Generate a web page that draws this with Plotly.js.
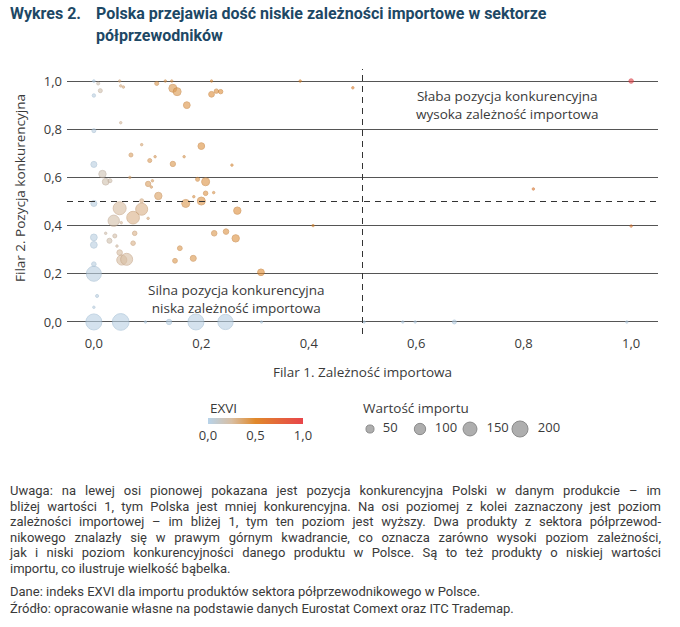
<!DOCTYPE html>
<html lang="pl">
<head>
<meta charset="utf-8">
<script src="https://cdn.plot.ly/plotly-3.0.1.min.js"></script>
<style>
  body { margin: 0; width: 680px; height: 627px; background: #fff; position: relative; overflow: hidden; }
  .title { position: absolute; top: 3px; left: 10px; width: 660px; font-family: Roboto, sans-serif; font-weight: bold;
           font-size: 16px; line-height: 22px; color: #1d4865; }
  .title .num { position: absolute; left: 0; top: 0; white-space: nowrap; }
  .title .txt { position: absolute; left: 86px; top: 0; white-space: nowrap; }
  #chart { position: absolute; top: 55px; left: 0; width: 680px; height: 400px; }
  .note { position: absolute; top: 483px; left: 10px; width: 651px; font-family: Roboto, sans-serif;
          font-size: 13px; line-height: 15.6px; color: #3a3a3a; }
  .note .j { text-align: justify; text-align-last: justify; }
  .note .src { margin-top: 7px; }
</style>
</head>
<body>
<div class="title">
  <span class="num">Wykres 2.</span>
  <span class="txt">Polska przejawia dość niskie zależności importowe w sektorze<br>półprzewodników</span>
</div>
<div id="chart"></div>
<div class="note">
  <div class="j">Uwaga: na lewej osi pionowej pokazana jest pozycja konkurencyjna Polski w danym produkcie – im</div>
  <div class="j">bliżej wartości 1, tym Polska jest mniej konkurencyjna. Na osi poziomej z kolei zaznaczony jest poziom</div>
  <div class="j">zależności importowej – im bliżej 1, tym ten poziom jest wyższy. Dwa produkty z sektora półprzewod-</div>
  <div class="j">nikowego znalazły się w prawym górnym kwadrancie, co oznacza zarówno wysoki poziom zależności,</div>
  <div class="j">jak i niski poziom konkurencyjności danego produktu w Polsce. Są to też produkty o niskiej wartości</div>
  <div>importu, co ilustruje wielkość bąbelka.</div>
  <div class="src">Dane: indeks EXVI dla importu produktów sektora półprzewodnikowego w Polsce.</div>
  <div style="margin-top:2px">Źródło: opracowanie własne na podstawie danych Eurostat Comext oraz ITC Trademap.</div>
</div>
<script>
// Filar 1 – zależność importowa (oś X)
const importDependence = [
  0.000, 0.008, 0.012, 0.000, 0.048, 0.050, 0.055, 0.117, 0.133, 0.145,
  0.147, 0.155, 0.173, 0.219, 0.219, 0.228, 0.236, 0.384, 0.482, 1.000,
  0.050, 0.000, 0.089, 0.200, 0.069, 0.104, 0.114, 0.147, 0.168, 0.257,
  0.000, 0.016, 0.022, 0.030, 0.067, 0.101, 0.109, 0.107, 0.120, 0.193,
  0.208, 0.208, 0.223, 0.186, 0.200, 0.171, 0.267, 0.000, 0.048, 0.089,
  0.089, 0.073, 0.037, 0.051, 0.101, 0.076, 0.224, 0.246, 0.264, 0.000,
  0.000, 0.022, 0.039, 0.029, 0.043, 0.048, 0.052, 0.061, 0.073, 0.000,
  0.000, 0.006, 0.000, 0.160, 0.151, 0.185, 0.311, 0.408, 0.818, 1.000,
  0.000, 0.050, 0.096, 0.140, 0.190, 0.245, 0.312, 0.503, 0.575, 0.598,
  0.671, 0.992
];
// Filar 2 – pozycja konkurencyjna (oś Y)
const competitivePosition = [
  1.000, 0.990, 0.960, 0.940, 1.000, 0.980, 0.975, 0.990, 1.000, 1.000,
  0.970, 0.956, 0.900, 1.000, 0.945, 0.958, 0.956, 1.000, 0.972, 1.000,
  0.827, 0.794, 0.736, 0.730, 0.693, 0.670, 0.686, 0.656, 0.686, 0.651,
  0.654, 0.614, 0.582, 0.586, 0.600, 0.573, 0.586, 0.560, 0.523, 0.592,
  0.582, 0.534, 0.537, 0.520, 0.502, 0.492, 0.462, 0.492, 0.472, 0.468,
  0.503, 0.433, 0.420, 0.412, 0.430, 0.368, 0.368, 0.375, 0.347, 0.351,
  0.320, 0.368, 0.357, 0.337, 0.315, 0.288, 0.257, 0.260, 0.327, 0.240,
  0.200, 0.108, 0.061, 0.306, 0.254, 0.264, 0.206, 0.400, 0.552, 0.398,
  0.000, 0.000, 0.000, 0.000, 0.000, 0.000, 0.000, 0.000, 0.000, 0.000,
  0.000, 0.000
];
// indeks EXVI (kolor)
const exvi = [
  0.02, 0.18, 0.20, 0.03, 0.30, 0.30, 0.32, 0.42, 0.42, 0.42,
  0.42, 0.42, 0.44, 0.46, 0.46, 0.46, 0.46, 0.50, 0.55, 1.00,
  0.25, 0.03, 0.35, 0.45, 0.38, 0.40, 0.40, 0.42, 0.42, 0.48,
  0.03, 0.18, 0.20, 0.20, 0.35, 0.38, 0.38, 0.38, 0.38, 0.44,
  0.44, 0.44, 0.44, 0.44, 0.44, 0.42, 0.46, 0.03, 0.25, 0.30,
  0.30, 0.30, 0.22, 0.25, 0.32, 0.30, 0.42, 0.44, 0.45, 0.03,
  0.03, 0.20, 0.22, 0.20, 0.22, 0.25, 0.25, 0.25, 0.30, 0.03,
  0.03, 0.03, 0.03, 0.42, 0.42, 0.42, 0.48, 0.50, 0.60, 0.60,
  0.02, 0.02, 0.02, 0.02, 0.02, 0.02, 0.02, 0.02, 0.02, 0.02,
  0.02, 0.02
];
// wartość importu (wielkość bąbelka)
const importValue = [
  6, 8, 14, 10, 4, 4, 4, 14, 4, 4,
  57, 57, 40, 4, 29, 17, 17, 3, 3, 18,
  5, 14, 4, 40, 14, 14, 4, 25, 4, 4,
  32, 48, 40, 14, 4, 25, 4, 4, 48, 14,
  57, 18, 4, 4, 57, 57, 48, 32, 150, 128,
  14, 143, 114, 5, 5, 18, 27, 27, 48, 40,
  40, 5, 14, 22, 5, 27, 90, 128, 18, 18,
  200, 8, 5, 20, 20, 32, 40, 3, 3, 4,
  228, 248, 5, 25, 228, 208, 5, 3, 3, 4,
  14, 3
];

const axisTicks = [0, 0.2, 0.4, 0.6, 0.8, 1.0];
const sizeLegendValues = [50, 100, 150, 200];
const quadrantLabels = [
  'Słaba pozycja konkurencyjna<br>wysoka zależność importowa',
  'Silna pozycja konkurencyjna<br>niska zależność importowa'
];

const exviScale = [
  [0, '#b7d3ea'], [0.25, '#d8bea2'], [0.5, '#e0892b'], [0.75, '#e4663b'], [1, '#e8454a']
];
const exviLineScale = [
  [0, '#9dbfdc'], [0.25, '#c4a283'], [0.5, '#c9741c'], [0.75, '#cc5128'], [1, '#d0323a']
];
const font = 'Open Sans, sans-serif';
const textColor = '#3a3a3a';
const sizeRef = 1.78;
const nb = '\u00a0\u00a0';

const bubbles = {
  type: 'scatter', mode: 'markers',
  x: importDependence, y: competitivePosition,
  hoverinfo: 'x+y',
  marker: {
    size: importValue, sizemode: 'area', sizeref: sizeRef, sizemin: 1.2,
    color: exvi, colorscale: exviScale, cmin: 0, cmax: 1,
    opacity: 0.62,
    line: { width: 1, color: exvi, colorscale: exviLineScale, cmin: 0, cmax: 1 },
    showscale: true,
    colorbar: {
      orientation: 'h', x: 0.3757, xanchor: 'center', y: 0.0925, yanchor: 'top',
      len: 95, lenmode: 'pixels', thickness: 6, xpad: 0, ypad: 0,
      outlinewidth: 0, ticks: '', tickvals: [0, 0.5, 1], tickformat: '.1f',
      tickfont: { family: font, size: 13, color: textColor }
    }
  },
  showlegend: false
};

const sizeLegend = {
  type: 'scatter', mode: 'markers+text', xaxis: 'x2', yaxis: 'y2',
  x: sizeLegendValues.map(String), y: sizeLegendValues.map(() => 0),
  text: sizeLegendValues.map(v => nb + v), textposition: 'middle right',
  textfont: { family: font, size: 13, color: textColor },
  hoverinfo: 'skip', cliponaxis: false,
  marker: { size: sizeLegendValues, sizemode: 'area', sizeref: 1.55,
            color: '#9b9b9b', opacity: 0.8, line: { width: 1, color: '#6f6f6f' } },
  showlegend: false
};

const annFont = { family: font, size: 13.5, color: textColor };

const layout = {
  width: 680, height: 400,
  margin: { l: 0, r: 0, t: 0, b: 0 },
  paper_bgcolor: '#fff', plot_bgcolor: '#fff',
  separators: ', ',
  font: { family: font, size: 13, color: textColor },
  xaxis: {
    domain: [67 / 680, 658 / 680], range: [-0.05, 1.05],
    showgrid: false, zeroline: false, showline: false, ticks: '',
    tickvals: axisTicks, tickformat: '.1f', automargin: false,
    tickfont: { family: font, size: 13, color: textColor },
    title: { text: 'Filar 1. Zależność importowa', standoff: 16, font: annFont }
  },
  yaxis: {
    domain: [121 / 400, 386 / 400], range: [-0.05, 1.05],
    showgrid: true, gridcolor: '#555', gridwidth: 1, zeroline: false, showline: false, ticks: '',
    tickvals: axisTicks, tickformat: '.1f', automargin: false, ticklabelstandoff: 4,
    tickfont: { family: font, size: 13, color: textColor }
  },
  xaxis2: { domain: [345 / 680, 545 / 680], anchor: 'y2', type: 'category', range: [-0.5, 3.5],
            visible: false, fixedrange: true },
  yaxis2: { domain: [0.035, 0.095], anchor: 'x2', range: [-1, 1], visible: false, fixedrange: true },
  shapes: [
    { type: 'line', xref: 'paper', yref: 'y', x0: 67 / 680, x1: 658 / 680, y0: 0.5, y1: 0.5,
      line: { color: '#333', width: 1, dash: '6px,5px' } },
    { type: 'line', xref: 'x', yref: 'y', x0: 0.5, x1: 0.5, y0: -0.05, y1: 1.05,
      line: { color: '#333', width: 1, dash: '6px,5px' } }
  ],
  annotations: [
    { x: 0.769, y: 0.9, xref: 'x', yref: 'y', text: quadrantLabels[0], showarrow: false, font: annFont },
    { x: 0.266, y: 0.094, xref: 'x', yref: 'y', text: quadrantLabels[1], showarrow: false, font: annFont },
    { x: 20 / 680, y: 1 - (188 - 55) / 400, xref: 'paper', yref: 'paper', textangle: -90,
      xanchor: 'center', yanchor: 'middle',
      text: 'Filar 2. Pozycja konkurencyjna', showarrow: false, font: annFont },
    { x: 361 / 680, y: 1 - (408 - 55) / 400, xref: 'paper', yref: 'paper', xanchor: 'left', yanchor: 'middle',
      text: 'Wartość importu', showarrow: false, font: annFont },
    { x: 208 / 680, y: 1 - (408 - 55) / 400, xref: 'paper', yref: 'paper', xanchor: 'left', yanchor: 'middle',
      text: 'EXVI', showarrow: false, font: annFont }
  ]
};

Plotly.newPlot('chart', [bubbles, sizeLegend], layout, { displayModeBar: false, staticPlot: true });
</script>
</body>
</html>
